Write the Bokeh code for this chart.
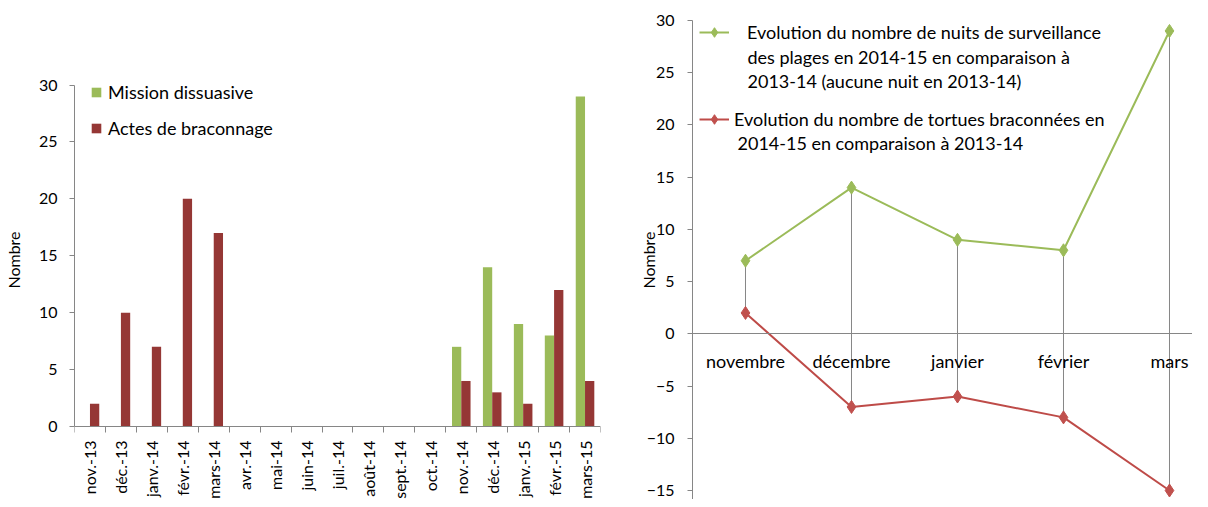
import numpy as np
from bokeh.plotting import figure
from bokeh.layouts import row
from bokeh.models import (Range1d, FixedTicker, LinearAxis, Legend, LegendItem, Label)
from bokeh.embed import file_html
from bokeh.resources import INLINE

# ---------------- data ----------------
months = ["nov.-13", "déc.-13", "janv.-14", "févr.-14", "mars-14", "avr.-14",
          "mai-14", "juin-14", "juil.-14", "août-14", "sept.-14", "oct.-14",
          "nov.-14", "déc.-14", "janv.-15", "févr.-15", "mars-15"]
mission = [0, 0, 0, 0, 0, 0, 0, 0, 0, 0, 0, 0, 7, 14, 9, 8, 29]
actes = [2, 10, 7, 20, 17, 0, 0, 0, 0, 0, 0, 0, 4, 3, 2, 12, 4]
left_yticks = [0, 5, 10, 15, 20, 25, 30]

mois = ["novembre", "décembre", "janvier", "février", "mars"]
nuits = [7, 14, 9, 8, 29]
tortues = [2, -7, -6, -8, -15]
right_yticks = [-15, -10, -5, 0, 5, 10, 15, 20, 25, 30]

label_nuits = ["Evolution du nombre de nuits de surveillance",
               "des plages en 2014-15  en comparaison à\n2013-14 (aucune nuit en 2013-14)"]
label_tortues = ["Evolution du nombre de tortues braconnées en",
                 "2014-15 en comparaison à 2013-14"]

FONT = "Lato"
FS = "16px"
FT = "18px"
GREEN = "#9BBB59"
DRED = "#953735"
RED = "#BE4B48"
GREY = "#868686"

H = 499
TOP = 20          # frame top (px from figure top)
FB = H            # frame bottom

def style_yaxis(ax, standoff_lbl, standoff_title):
    ax.axis_line_color = GREY
    ax.major_tick_line_color = GREY
    ax.minor_tick_line_color = None
    ax.major_tick_out = 5
    ax.major_tick_in = 0
    ax.major_label_text_font = FONT
    ax.major_label_text_font_size = FS
    ax.major_label_text_color = "black"
    ax.major_label_standoff = standoff_lbl
    ax.axis_label = "Nombre"
    ax.axis_label_text_font = FONT
    ax.axis_label_text_font_size = FS
    ax.axis_label_text_font_style = "normal"
    ax.axis_label_text_color = "black"
    ax.axis_label_standoff = standoff_title

# ---------------- left chart ----------------
n = len(months)
xi = np.arange(n)
zero_px, thirty_px = 426, 84.5
ppu = (zero_px - thirty_px) / 30.0
p1 = figure(width=620, height=H, x_range=Range1d(-0.5, n - 0.5),
            y_range=Range1d(-(FB - zero_px) / ppu, (zero_px - TOP) / ppu),
            output_backend="svg", toolbar_location=None, x_axis_location=None,
            min_border_left=65, min_border_right=20, min_border_top=TOP, min_border_bottom=0)
p1.grid.visible = False
p1.outline_line_color = None
p1.background_fill_color = None
style_yaxis(p1.yaxis[0], 12, 13)
p1.yaxis[0].ticker = FixedTicker(ticks=left_yticks)
p1.yaxis[0].bounds = (0, 30)

# boundary ticks axis
bticks = [float(t) for t in (np.arange(n + 1) - 0.5)]
bax = LinearAxis(ticker=FixedTicker(ticks=bticks),
                 major_label_overrides={t: "" for t in bticks},
                 axis_line_color=GREY, major_tick_line_color=GREY, minor_tick_line_color=None,
                 major_tick_out=6, major_tick_in=0, major_label_standoff=0,
                 major_label_text_font_size="1px", fixed_location=0)
p1.add_layout(bax, "below")
# category labels axis
lax = LinearAxis(ticker=FixedTicker(ticks=list(xi)),
                 major_label_overrides={int(i): m for i, m in zip(xi, months)},
                 axis_line_color=None, major_tick_line_color=None, minor_tick_line_color=None,
                 major_tick_out=0, major_tick_in=0, major_label_standoff=14,
                 major_label_orientation=np.pi / 2,
                 major_label_text_font=FONT, major_label_text_font_size=FS,
                 major_label_text_color="black", fixed_location=0)
p1.add_layout(lax, "below")

r_m = p1.vbar(x=xi - 0.15, top=mission, width=0.3, fill_color=GREEN, line_color=None)
r_a = p1.vbar(x=xi + 0.15, top=actes, width=0.3, fill_color=DRED, line_color=None)

leg1 = Legend(items=[LegendItem(label="Mission dissuasive", renderers=[r_m]),
                     LegendItem(label="Actes de braconnage", renderers=[r_a])],
              location=(16, FB - 139), orientation="vertical",
              glyph_width=12, glyph_height=12, label_standoff=6, spacing=14,
              label_height=22, padding=0, margin=0,
              border_line_color=None, background_fill_alpha=0,
              label_text_font=FONT, label_text_font_size=FT, label_text_color="black")
p1.add_layout(leg1, "center")

# ---------------- right chart ----------------
m = len(mois)
xr = np.arange(m)
r_ppu = (490 - TOP) / 45.0
p2 = figure(width=572, height=H, x_range=Range1d(-0.5, 4.217),
            y_range=Range1d(30 - (FB - TOP) / r_ppu, 30),
            output_backend="svg", toolbar_location=None, x_axis_location=None,
            min_border_left=72, min_border_right=0, min_border_top=TOP, min_border_bottom=0)
p2.grid.visible = False
p2.outline_line_color = None
p2.background_fill_color = None
style_yaxis(p2.yaxis[0], 13, -14)
p2.yaxis[0].ticker = FixedTicker(ticks=right_yticks)

xax = LinearAxis(ticker=FixedTicker(ticks=list(xr)),
                 major_label_overrides={int(i): s for i, s in zip(xr, mois)},
                 axis_line_color=GREY, major_tick_line_color=None, minor_tick_line_color=None,
                 major_tick_out=0, major_tick_in=0, major_label_standoff=16,
                 major_label_text_font=FONT, major_label_text_font_size=FT,
                 major_label_text_color="black", fixed_location=0)
p2.add_layout(xax, "below")

p2.segment(x0=xr, y0=nuits, x1=xr, y1=tortues, line_color=GREY, line_width=1)
gl = p2.line(xr, nuits, line_color=GREEN, line_width=2)
gs = p2.scatter(xr, nuits, marker="diamond", size=13, fill_color=GREEN, line_color=GREEN)
rl = p2.line(xr, tortues, line_color=RED, line_width=2)
rs = p2.scatter(xr, tortues, marker="diamond", size=13, fill_color="#C0504D", line_color="#C0504D")

common = dict(orientation="vertical", glyph_width=30, glyph_height=24, label_height=22,
              padding=0, margin=0, border_line_color=None, background_fill_alpha=0,
              label_text_font=FONT, label_text_font_size=FT, label_text_color="black")
legA = Legend(items=[LegendItem(label=label_nuits[0], renderers=[gl, gs])],
              location=(7, FB - 44), label_standoff=18, **common)
legB = Legend(items=[LegendItem(label=label_tortues[0], renderers=[rl, rs])],
              location=(7, FB - 131), label_standoff=5, **common)
p2.add_layout(legA, "center")
p2.add_layout(legB, "center")

lblA = Label(x=55, y=FB - 45, x_units="screen", y_units="screen", text=label_nuits[1],
             text_font=FONT, text_font_size=FT, text_color="black",
             text_baseline="top", text_line_height=1.1)
lblB = Label(x=45, y=FB - 131, x_units="screen", y_units="screen", text=label_tortues[1],
             text_font=FONT, text_font_size=FT, text_color="black",
             text_baseline="top", text_line_height=1.1)
p2.add_layout(lblA)
p2.add_layout(lblB)

layout = row(p1, p2)
open("out.html", "w").write(file_html(layout, INLINE))
